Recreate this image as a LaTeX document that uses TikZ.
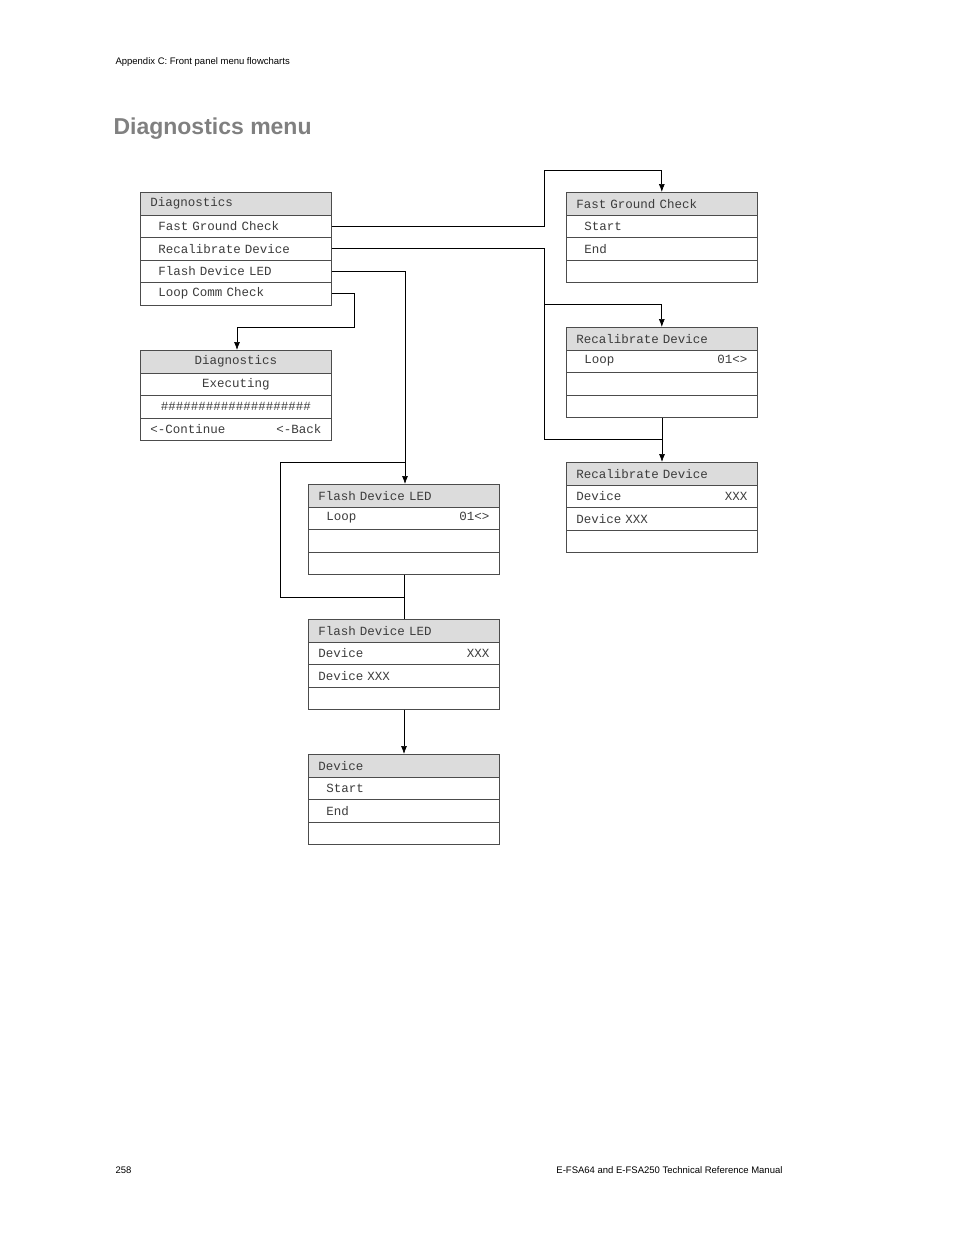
\documentclass[tikz,border=0pt]{standalone}
\usepackage{fontspec}
\setmainfont{Liberation Sans}
\setmonofont{Liberation Mono}
\usetikzlibrary{arrows.meta}
\definecolor{txtgray}{HTML}{3C3C3C}
\definecolor{headgray}{HTML}{DCDCDC}
\tikzset{
  cell/.style={draw=black!70, line width=0.6bp, anchor=north west, minimum width=191bp,
    minimum height=22.5bp, inner xsep=0bp, inner ysep=0bp, text width=171bp, align=left,
    font=\ttfamily\fontsize{12.5bp}{13bp}\selectfont, text=txtgray},
  headcell/.style={cell, fill=headgray},
  link/.style={line width=0.7bp, -{Latex[length=8bp,width=6bp]}},
  wire/.style={line width=0.7bp}
}
\begin{document}
\begin{tikzpicture}[x=1bp,y=-1bp]
\useasboundingbox (0,0) rectangle (954,1235);
% Page text
\node[anchor=west, font=\fontsize{9.5bp}{11bp}\selectfont] at (112,62) {Appendix C: Front panel menu flowcharts};
\node[anchor=west, font=\bfseries\fontsize{23bp}{26bp}\selectfont, text=black!50] at (110,129) {Diagnostics menu};
\node[anchor=west, font=\fontsize{9.5bp}{11bp}\selectfont] at (112,1170) {258};
\node[anchor=east, font=\fontsize{9.5bp}{11bp}\selectfont] at (786,1170) {E-FSA64 and E-FSA250 Technical Reference Manual};

% Diagnostics main
\node[headcell] (d0) at (140,192)   {Diagnostics};
\node[cell] (d1) at (140,214.5) {\hspace*{8bp}Fast Ground Check};
\node[cell] (d2) at (140,237)   {\hspace*{8bp}Recalibrate Device};
\node[cell] (d3) at (140,259.5) {\hspace*{8bp}Flash Device LED};
\node[cell] (d4) at (140,282)   {\hspace*{8bp}Loop Comm Check};

% Diagnostics executing
\node[headcell, align=center] (e0) at (140,350)   {Diagnostics};
\node[cell, align=center] (e1) at (140,372.5) {Executing};
\node[cell, align=center] (e2) at (140,395)   {\#\#\#\#\#\#\#\#\#\#\#\#\#\#\#\#\#\#\#\#};
\node[cell] (e3) at (140,417.5) {<-Continue\hfill<-Back};

% Fast ground check
\node[headcell] (f0) at (566,192)   {Fast Ground Check};
\node[cell] (f1) at (566,214.5) {\hspace*{8bp}Start};
\node[cell] (f2) at (566,237)   {\hspace*{8bp}End};
\node[cell] (f3) at (566,259.5) {};

% Recalibrate loop
\node[headcell] (r0) at (566,327)   {Recalibrate Device};
\node[cell] (r1) at (566,349.5) {\hspace*{8bp}Loop\hfill 01<>};
\node[cell] (r2) at (566,372)   {};
\node[cell] (r3) at (566,394.5) {};

% Recalibrate device
\node[headcell] (s0) at (566,462)   {Recalibrate Device};
\node[cell] (s1) at (566,484.5) {Device\hfill XXX};
\node[cell] (s2) at (566,507)   {Device XXX};
\node[cell] (s3) at (566,529.5) {};

% Flash loop
\node[headcell] (l0) at (308,484)   {Flash Device LED};
\node[cell] (l1) at (308,506.5) {\hspace*{8bp}Loop\hfill 01<>};
\node[cell] (l2) at (308,529)   {};
\node[cell] (l3) at (308,551.5) {};

% Flash device
\node[headcell] (m0) at (308,619)   {Flash Device LED};
\node[cell] (m1) at (308,641.5) {Device\hfill XXX};
\node[cell] (m2) at (308,664)   {Device XXX};
\node[cell] (m3) at (308,686.5) {};

% Device
\node[headcell] (v0) at (308,754)   {Device};
\node[cell] (v1) at (308,776.5) {\hspace*{8bp}Start};
\node[cell] (v2) at (308,799)   {\hspace*{8bp}End};
\node[cell] (v3) at (308,821.5) {};

% Connectors
\draw[link] (d1.east) -| (544,170) -| (f0.north);
\draw[link] (d2.east) -| (544,304) -| (r0.north);
\draw[wire] (544,304) |- (662,439);
\draw[link] (r3.south -| 662,0) -- (s0.north -| 662,0);
\draw[link] (d3.east) -| (l0.north -| 405,0);
\draw[link] (d4.east) -| (354,327) -| (e0.north -| 237,0);
\draw[wire] (405,462) -| (280,597) -| (m0.north -| 404,0);
\draw[wire] (l3.south -| 404,0) -- (404,597);
\draw[link] (m3.south -| 404,0) -- (v0.north -| 404,0);
\end{tikzpicture}
\end{document}
